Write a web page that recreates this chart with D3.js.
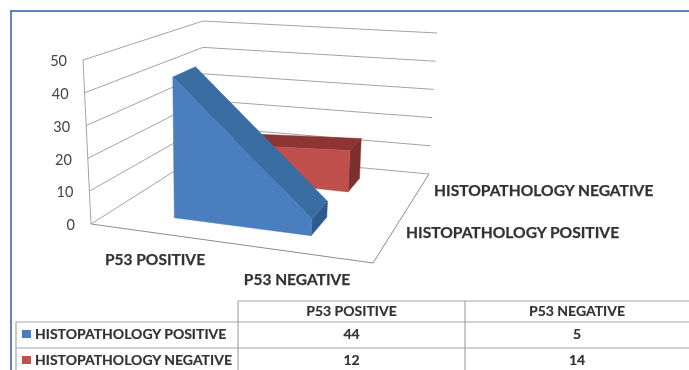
<!DOCTYPE html>
<html>
<head>
<meta charset="utf-8">
<script src="https://cdn.jsdelivr.net/npm/d3@7"></script>
<style>
  html, body { margin: 0; padding: 0; background: #fff; }
  svg { display: block; font-family: Lato, sans-serif; }
</style>
</head>
<body>
<div id="chart"></div>
<script>
const categories = ["P53 POSITIVE", "P53 NEGATIVE"];
const seriesNames = ["HISTOPATHOLOGY POSITIVE", "HISTOPATHOLOGY NEGATIVE"];
const positiveValues = [44, 5];
const negativeValues = [12, 14];
const valueTicks = [0, 10, 20, 30, 40, 50];
const seriesColors = [
  { front: "#4a7ebf", top: "#3a6ea3", end: "#2f5a90", key: "#4a7ebb" },
  { front: "#c0504d", top: "#8c3533", end: "#7c3130", key: "#c0504d" }
];

const width = 689, height = 370;

const svg = d3.select("#chart").append("svg")
  .attr("width", width)
  .attr("height", height);

const plot = svg.append("g").style("filter", "blur(0.5px)");

// corners of the 3D box on screen: floor and ceiling, front/back, left/right
const floor = { fl: [91, 224], fr: [373, 263], bl: [203, 153], br: [429, 174] };
const ceil = { fl: [83, 60], fr: [389, 88], bl: [203, 21], br: [437, 33] };

const xScale = d3.scalePoint().domain(categories).range([0.225, 0.73]);
const valueScale = d3.scaleLinear().domain([0, 50]).range([0, 1]);
const depthBands = [[0.2, 0.42], [0.72, 0.88]];

function corner(box, c, s) {
  const front = d3.interpolate(box.fl, box.fr)(c);
  const back = d3.interpolate(box.bl, box.br)(c);
  return d3.interpolate(front, back)(s);
}

// category position c, depth s, value v -> screen point
function project(c, s, v) {
  return d3.interpolate(corner(floor, c, s), corner(ceil, c, s))(valueScale(v));
}

const line = d3.line();
const gridColor = "#a3a3a3";

// walls
valueTicks.forEach(v => {
  plot.append("path")
    .attr("d", line([project(0, 0, v), project(0, 1, v), project(1, 1, v)]))
    .attr("fill", "none")
    .attr("stroke", gridColor);
});
plot.append("path")
  .attr("d", line([project(0, 0, 0), project(0, 0, 50)]))
  .attr("fill", "none")
  .attr("stroke", gridColor);

// floor edges
plot.append("path")
  .attr("d", line([project(0, 0, 0), project(1, 0, 0), project(1, 1, 0)]))
  .attr("fill", "none")
  .attr("stroke", "#8c8c8c");

// areas, back series first
[negativeValues, positiveValues].forEach((vals, i) => {
  const k = 1 - i;
  const [s0, s1] = depthBands[k];
  const col = seriesColors[k];
  const c0 = xScale(categories[0]), c1 = xScale(categories[1]);
  const face = (pts, fill) => plot.append("path")
    .attr("d", line(pts) + "Z")
    .attr("fill", fill)
    .attr("stroke", fill)
    .attr("stroke-width", 0.5);

  face([project(c1, s0, 0), project(c1, s1, 0), project(c1, s1, vals[1]), project(c1, s0, vals[1])], col.end);
  face([project(c0, s0, vals[0]), project(c0, s1, vals[0]), project(c1, s1, vals[1]), project(c1, s0, vals[1])], col.top);
  face([project(c0, s0, 0), project(c1, s0, 0), project(c1, s0, vals[1]), project(c0, s0, vals[0])], col.front);
});

// value axis labels
plot.selectAll(".tick-label")
  .data(valueTicks)
  .enter().append("text")
  .attr("x", d => project(0, 0, d)[0] - 16)
  .attr("y", d => project(0, 0, d)[1] + 2.5)
  .attr("text-anchor", "end")
  .attr("dominant-baseline", "middle")
  .attr("font-size", 14.5)
  .attr("fill", "#444")
  .text(d => d);

// category labels
const catLabelPos = [[155, 261], [297, 281]];
plot.selectAll(".cat-label")
  .data(categories)
  .enter().append("text")
  .attr("x", (d, i) => catLabelPos[i][0])
  .attr("y", (d, i) => catLabelPos[i][1])
  .attr("text-anchor", "middle")
  .attr("dominant-baseline", "middle")
  .attr("font-size", 15.5)
  .attr("font-weight", 700)
  .attr("fill", "#333")
  .attr("stroke", "#333")
  .attr("stroke-width", 0.25)
  .text(d => d);

// series labels
const seriesLabelPos = [[406, 234], [434, 192]];
plot.selectAll(".series-label")
  .data(seriesNames)
  .enter().append("text")
  .attr("x", (d, i) => seriesLabelPos[i][0])
  .attr("y", (d, i) => seriesLabelPos[i][1])
  .attr("dominant-baseline", "middle")
  .attr("font-size", 15.6)
  .attr("font-weight", 700)
  .attr("fill", "#333")
  .attr("stroke", "#333")
  .attr("stroke-width", 0.25)
  .text(d => d);

// data table
const tableLines = "#a6a6a6";
const colX = [16, 238, 465, 689];
const rowY = [301, 322, 348, 374];
const table = svg.append("g").style("filter", "blur(0.4px)");

const tableSegs = [
  [colX[1], rowY[0], colX[3], rowY[0]],
  [colX[0], rowY[1], colX[3], rowY[1]],
  [colX[0], rowY[2], colX[3], rowY[2]],
  [colX[0], rowY[1], colX[0], rowY[3]],
  [colX[1], rowY[0], colX[1], rowY[3]],
  [colX[2], rowY[0], colX[2], rowY[3]]
];
table.selectAll("line")
  .data(tableSegs)
  .enter().append("line")
  .attr("x1", d => d[0]).attr("y1", d => d[1])
  .attr("x2", d => d[2]).attr("y2", d => d[3])
  .attr("stroke", tableLines)
  .attr("stroke-width", 1.2);

const colCenter = [d3.mean(colX.slice(1, 3)), d3.mean(colX.slice(2, 4))];
const cellText = (x, y, t, anchor, size) => table.append("text")
  .attr("x", x).attr("y", y)
  .attr("text-anchor", anchor)
  .attr("dominant-baseline", "middle")
  .attr("font-size", size)
  .attr("font-weight", 700)
  .attr("fill", "#333")
  .attr("stroke", "#333")
  .attr("stroke-width", 0.2)
  .text(t);

categories.forEach((c, i) => cellText(colCenter[i], 312, c, "middle", 14));

[positiveValues, negativeValues].forEach((vals, r) => {
  const y = d3.mean([rowY[r + 1], rowY[r + 2]]);
  table.append("rect")
    .attr("x", 22).attr("y", y - 5)
    .attr("width", 9).attr("height", 8)
    .attr("fill", seriesColors[r].key);
  cellText(35, y, seriesNames[r], "start", 14);
  vals.forEach((v, i) => cellText(colCenter[i], y, v, "middle", 14));
});

// outer blue frame, cropped at the right and bottom
svg.append("path")
  .attr("d", line([[11, height], [11, 11], [width, 11]]))
  .attr("fill", "none")
  .attr("stroke", "#2f5aa8")
  .attr("stroke-width", 1.5);
</script>
</body>
</html>
